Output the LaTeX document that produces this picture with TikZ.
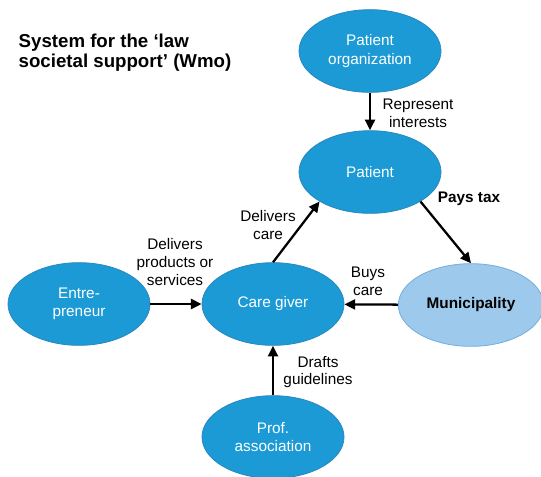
\documentclass[tikz,border=0pt]{standalone}
\usepackage{fontspec}
\setmainfont{Liberation Sans}
\usepackage{tikz}
\usetikzlibrary{shapes.geometric, arrows.meta, positioning}

\definecolor{wmoblue}{HTML}{1B9AD6}
\definecolor{wmoedge}{HTML}{2A86C0}
\definecolor{munifill}{HTML}{9DC9EC}
\definecolor{muniedge}{HTML}{72AEDD}

\tikzset{
  actor/.style={ellipse, draw=wmoedge, fill=wmoblue, line width=0.6pt,
    minimum width=106.5pt, minimum height=62pt, inner sep=0pt,
    text=white, align=center, font=\fontsize{11.5}{13.8}\selectfont},
  flow/.style={-{Triangle[length=8pt,width=7.5pt]}, line width=1.7pt},
  lbl/.style={align=center, font=\fontsize{11.5}{13.3}\selectfont}
}

\begin{document}
\begin{tikzpicture}[x=0.75pt,y=-0.75pt]
        \useasboundingbox (0,0) rectangle (541,476);
        \node[anchor=west, align=left, font=\fontsize{14}{14.8}\selectfont\bfseries] (title) at (14,53)
          {System for the `law\\societal support' (Wmo)};
        \node[actor] (porg) at (370,51) {Patient\\organization};
        \node[actor] (pat) at (370,172) {Patient};
        \node[actor] (care) at (273,304) {Care giver};
        \node[actor] (entr) at (79,304) {Entre-\\preneur};
        \node[actor, fill=munifill, draw=muniedge, text=black,
          font=\fontsize{11.5}{13.8}\selectfont\bfseries, minimum width=109pt] (muni) at (471,305) {Municipality};
        \node[actor] (prof) at (273,437) {Prof.\\association};
        \draw[flow] (porg) to (pat);
        \draw[flow] (pat.south east) to (muni.north);
        \draw[flow] (care.north) to (pat.south west);
        \draw[flow] (muni) to (care);
        \draw[flow] (entr) to (care);
        \draw[flow] (prof) to (care);
        \node[lbl] (l1) at (418,113) {Represent\\interests};
        \node[lbl, font=\fontsize{11.5}{13.3}\selectfont\bfseries] (l2) at (469,199) {Pays tax};
        \node[lbl] (l3) at (268,225) {Delivers\\care};
        \node[lbl] (l4) at (175,262) {Delivers\\products or\\services};
        \node[lbl] (l5) at (368,281) {Buys\\care};
        \node[lbl] (l6) at (318,372) {Drafts\\guidelines};
    \end{tikzpicture}
\end{document}
